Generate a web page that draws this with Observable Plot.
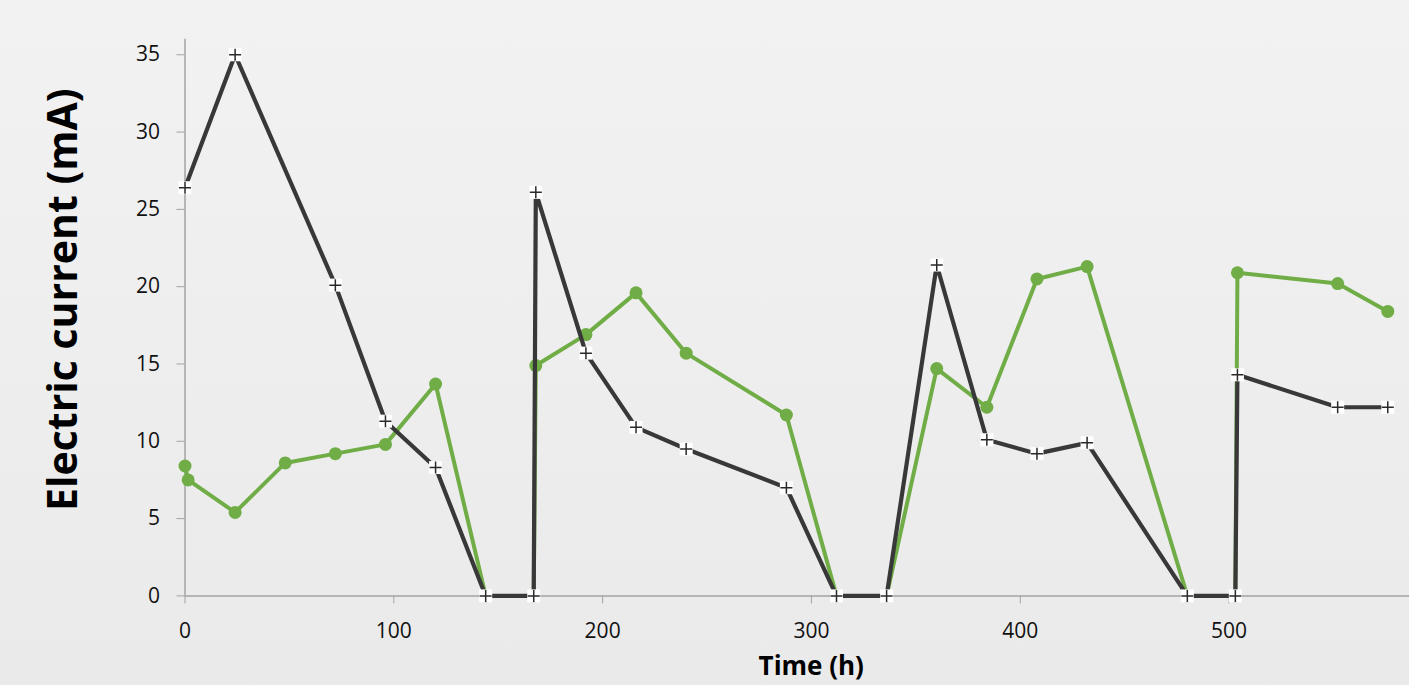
<!DOCTYPE html>
<html>
<head>
<meta charset="utf-8">
<script src="https://cdn.jsdelivr.net/npm/d3@7"></script>
<script src="https://cdn.jsdelivr.net/npm/@observablehq/plot@0.6"></script>
<style>
  html, body { margin: 0; padding: 0; }
  body {
    width: 1409px; height: 685px; overflow: hidden;
    background: linear-gradient(#f2f2f2, #eaeaea);
    font-family: "Open Sans", sans-serif;
  }
  #chart svg { display: block; background: transparent; }
</style>
</head>
<body>
<div id="chart"></div>
<script>
// Black series (cross markers)
const timeBlack = [0, 24, 72, 96, 120, 144, 167, 168, 192, 216, 240, 288, 312, 336, 360, 384, 408, 432, 480, 503, 504, 552, 576];
const currentBlack = [26.4, 35, 20.1, 11.3, 8.3, 0, 0, 26.1, 15.7, 10.9, 9.5, 7.0, 0, 0, 21.4, 10.1, 9.2, 9.9, 0, 0, 14.3, 12.2, 12.2];

// Green series (circle markers)
const timeGreen = [0, 1.5, 24, 48, 72, 96, 120, 144, 167, 168, 192, 216, 240, 288, 312, 336, 360, 384, 408, 432, 480, 503, 504, 552, 576];
const currentGreen = [8.4, 7.5, 5.4, 8.6, 9.2, 9.8, 13.7, 0, 0, 14.9, 16.9, 19.6, 15.7, 11.7, 0, 0, 14.7, 12.2, 20.5, 21.3, 0, 0, 20.9, 20.2, 18.4];

const xTicks = [0, 100, 200, 300, 400, 500];
const yTicks = [0, 5, 10, 15, 20, 25, 30, 35];
const xTitle = "Time (h)";
const yTitle = "Electric current (mA)";

const black = timeBlack.map((t, i) => ({t, v: currentBlack[i]}));
const green = timeGreen.map((t, i) => ({t, v: currentGreen[i]}));

const plusSymbol = {
  draw(ctx, size) {
    const r = Math.sqrt(size / Math.PI);
    ctx.moveTo(-r, 0); ctx.lineTo(r, 0);
    ctx.moveTo(0, -r); ctx.lineTo(0, r);
  }
};
const squareSymbol = {
  draw(ctx, size) {
    const r = Math.sqrt(size / Math.PI);
    ctx.rect(-r, -r, 2 * r, 2 * r);
  }
};

const axisColor = "#a3a3a3";

const chart = Plot.plot({
  width: 1409,
  height: 685,
  marginLeft: 184.5,
  marginRight: 0,
  marginTop: 38.8,
  marginBottom: 89.6,
  style: {fontFamily: "'Open Sans', sans-serif", background: "transparent", color: "#111"},
  x: {domain: [0, 586.4]},
  y: {domain: [0, 36]},
  marks: [
    Plot.axisX({ticks: xTicks, tickSize: 8, tickPadding: 19, stroke: axisColor, fill: "#111", fontSize: 21, label: null}),
    Plot.axisY({ticks: yTicks, tickSize: 8, tickPadding: 17, stroke: axisColor, fill: "#111", fontSize: 21, label: null}),
    Plot.ruleY([0], {stroke: axisColor, strokeWidth: 1.5}),
    Plot.ruleX([0], {stroke: axisColor, strokeWidth: 1.5}),
    Plot.line(green, {x: "t", y: "v", stroke: "#70ad47", strokeWidth: 4, curve: "linear"}),
    Plot.dot(green, {x: "t", y: "v", r: 6.5, fill: "#70ad47", stroke: "none"}),
    Plot.line(black, {x: "t", y: "v", stroke: "#383838", strokeWidth: 4.2, curve: "linear"}),
    Plot.dot(black, {x: "t", y: "v", r: 6.5, symbol: squareSymbol, fill: "white", stroke: "none"}),
    Plot.dot(black, {x: "t", y: "v", r: 6, symbol: plusSymbol, fill: "none", stroke: "#2a2a2a", strokeWidth: 1.5}),
    Plot.text([xTitle], {frameAnchor: "bottom", dx: 14, dy: 71, lineAnchor: "middle", textAnchor: "middle", fontSize: 26, fontWeight: "bold", fill: "#000"}),
    Plot.text([yTitle], {frameAnchor: "left", rotate: -90, dx: -121.5, dy: -18, lineAnchor: "middle", textAnchor: "middle", fontSize: 41, fontWeight: "bold", fill: "#000"})
  ]
});
document.getElementById("chart").appendChild(chart);
</script>
</body>
</html>
